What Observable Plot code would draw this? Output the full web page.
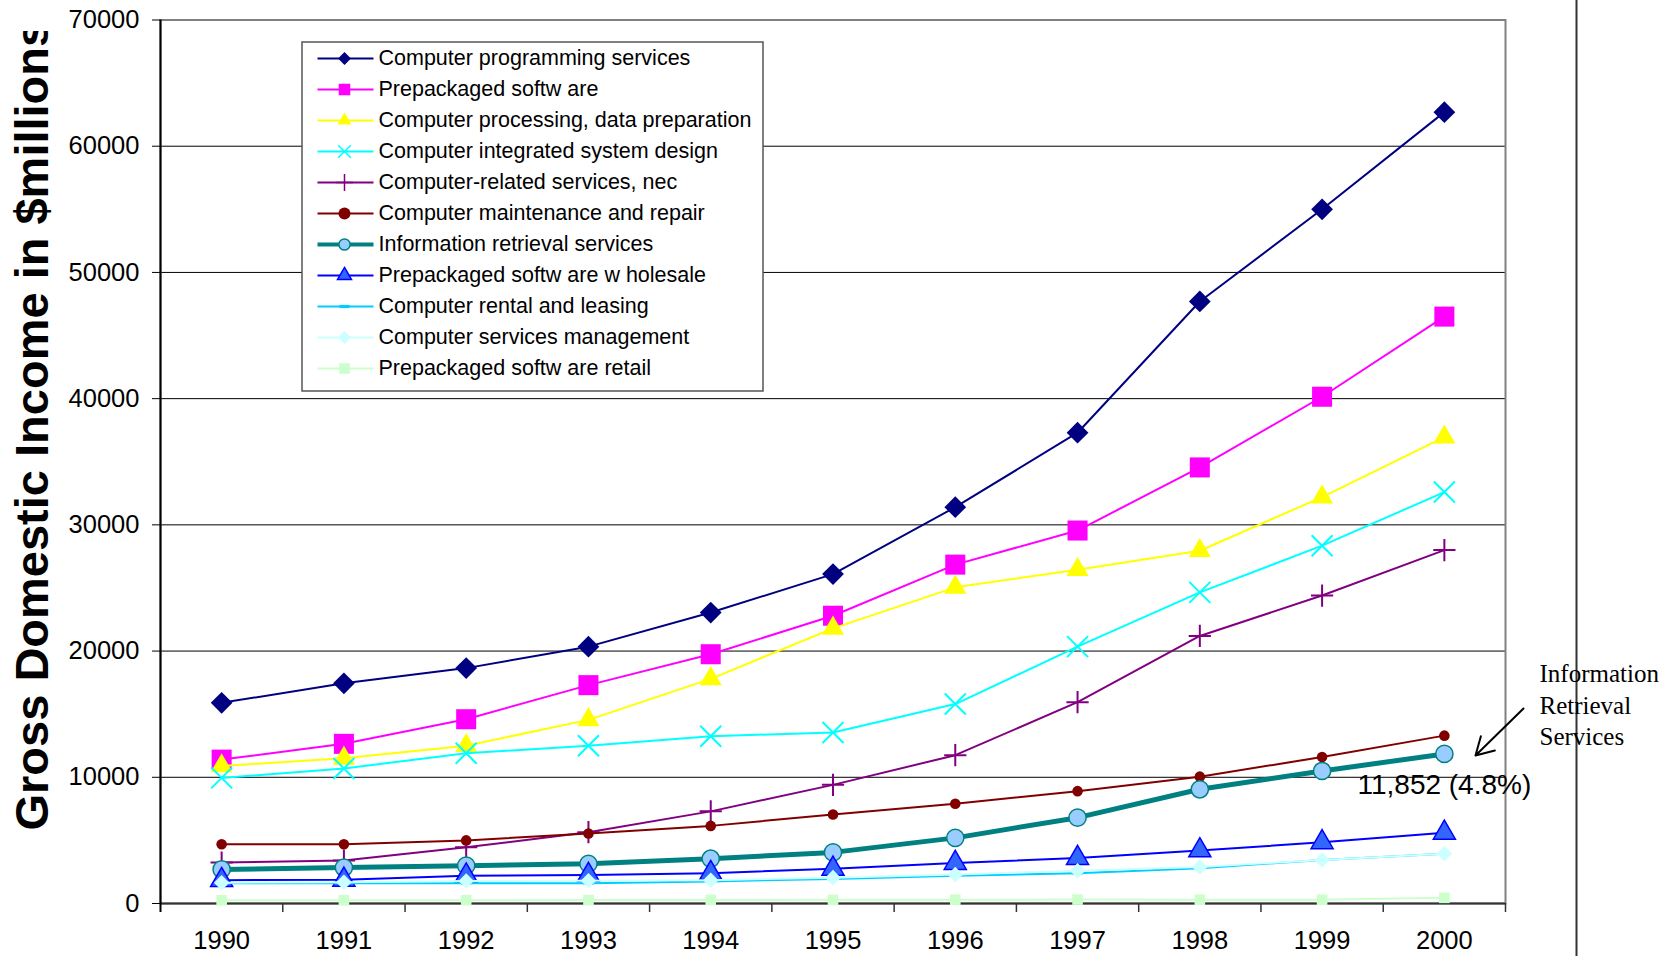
<!DOCTYPE html>
<html>
<head>
<meta charset="utf-8">
<script src="https://cdn.jsdelivr.net/npm/d3@7"></script>
<script src="https://cdn.jsdelivr.net/npm/@observablehq/plot@0.6"></script>
<style>
  html, body { margin: 0; padding: 0; background: #fff; }
  #chart svg { display: block; }
</style>
</head>
<body>
<div id="chart"></div>
<script>
// ---------- data ----------
const years = [1990, 1991, 1992, 1993, 1994, 1995, 1996, 1997, 1998, 1999, 2000];
const yTicks = [0, 10000, 20000, 30000, 40000, 50000, 60000, 70000];
const seriesNames = [
  "Computer programming services",
  "Prepackaged softw are",
  "Computer processing, data preparation",
  "Computer integrated system design",
  "Computer-related services, nec",
  "Computer maintenance and repair",
  "Information retrieval services",
  "Prepackaged softw are w holesale",
  "Computer rental and leasing",
  "Computer services management",
  "Prepackaged softw are retail"
];
const programming = [15900, 17450, 18650, 20350, 23050, 26100, 31400, 37300, 47700, 55000, 62700];
const prepackaged = [11400, 12650, 14600, 17300, 19750, 22800, 26850, 29550, 34550, 40150, 46500];
const processing  = [10900, 11500, 12500, 14550, 17800, 21800, 25050, 26450, 27950, 32200, 36950];
const integrated  = [9950, 10700, 11900, 12500, 13250, 13550, 15800, 20350, 24650, 28350, 32600];
const related     = [3250, 3400, 4450, 5650, 7300, 9400, 11750, 15950, 21200, 24400, 28000];
const maintenance = [4700, 4700, 5000, 5550, 6150, 7050, 7900, 8900, 10050, 11600, 13300];
const retrieval   = [2700, 2850, 3000, 3150, 3550, 4050, 5200, 6800, 9050, 10500, 11852];
const wholesale   = [1850, 1880, 2200, 2250, 2400, 2750, 3200, 3600, 4200, 4850, 5600];
const rental      = [1600, 1600, 1600, 1600, 1750, 1950, 2200, 2400, 2800, 3450, 3950];
const management  = [1650, 1680, 1780, 1800, 1850, 2050, 2300, 2600, 2900, 3450, 3950];
const retail      = [250, 250, 260, 270, 280, 290, 300, 310, 300, 300, 450];
const seriesValues = [programming, prepackaged, processing, integrated, related, maintenance,
                      retrieval, wholesale, rental, management, retail];

const yTitle = "Gross Domestic Income in $millions";
const noteLabel = "11,852 (4.8%)";
const noteYear = 2000;
const noteValue = 11852;
const sideNote = "Information\nRetrieval\nServices";

// ---------- styles ----------
const dash = {
  draw(context) {
    context.moveTo(-5, -1.6); context.lineTo(5, -1.6); context.lineTo(5, 1.6); context.lineTo(-5, 1.6); context.closePath();
  }
};
const styles = [
  {color: "#000080", symbol: "diamond2", r: 9.8, lr: 5.8, fill: "#000080", stroke: "none", sw: 0, lw: 2},
  {color: "#FF00FF", symbol: "square",   r: 11.3, lr: 6.5, fill: "#FF00FF", stroke: "none", sw: 0, lw: 2},
  {color: "#FFFF00", symbol: "triangle", r: 8.2, lr: 5.1, fill: "#FFFF00", stroke: "none", sw: 0, lw: 2},
  {color: "#00FFFF", symbol: "times",    r: 9.6, lr: 5.8, fill: "none", stroke: "#00FFFF", sw: 2, lw: 2},
  {color: "#800080", symbol: "plus",     r: 7.2, lr: 5.5, fill: "none", stroke: "#800080", sw: 2, lw: 2},
  {color: "#800000", symbol: "circle",   r: 5.3, lr: 6.0, fill: "#800000", stroke: "none", sw: 0, lw: 2},
  {color: "#008080", symbol: "circle",   r: 8.6, lr: 5.6, fill: "#99CCFF", stroke: "#008080", sw: 1.5, lw: 5},
  {color: "#0000FF", symbol: "triangle", r: 8.2, lr: 5.2, fill: "#3366FF", stroke: "#0000FF", sw: 1.5, lw: 2},
  {color: "#00CCFF", symbol: dash,       r: 5,   lr: 5,   fill: "#00CCFF", stroke: "none", sw: 0, lw: 2},
  {color: "#CCFFFF", symbol: "diamond2", r: 7.0, lr: 5.8, fill: "#CCFFFF", stroke: "none", sw: 0, lw: 2},
  {color: "#CCFFCC", symbol: "square",   r: 6.0, lr: 6.0, fill: "#CCFFCC", stroke: "none", sw: 0, lw: 2}
];

// ---------- layout ----------
const W = 1670, H = 956;
const mLeft = 160, mRight = 165, mTop = 19.5, mBottom = 53;
const xDomain = [years[0] - 0.5, years[years.length - 1] + 0.5];
const yDomain = [0, 70000];
const xPix = d3.scaleLinear(xDomain, [mLeft, W - mRight]);
const yPix = d3.scaleLinear(yDomain, [H - mBottom, mTop]);

const marks = [];
// grid lines
marks.push(Plot.ruleY(yTicks.slice(1, -1), {stroke: "#000", strokeWidth: 1}));
// plot frame
marks.push(Plot.frame({stroke: "#808080", strokeWidth: 2}));
// axis lines and ticks between categories
marks.push(Plot.ruleY([0], {stroke: "#333", strokeWidth: 2}));
marks.push(Plot.ruleX([xDomain[0]], {stroke: "#000", strokeWidth: 2, insetBottom: -9}));
marks.push(Plot.ruleX(years.map(y => y + 0.5), {stroke: "#333", strokeWidth: 1.5,
  insetTop: H - mBottom - mTop, insetBottom: -9}));

// series
seriesNames.forEach((name, i) => {
  const s = styles[i];
  const rows = years.map((yr, j) => ({series: name, year: yr, value: seriesValues[i][j]}));
  marks.push(Plot.line(rows, {x: "year", y: "value", stroke: s.color, strokeWidth: s.lw}));
  marks.push(Plot.dot(rows, {x: "year", y: "value", symbol: s.symbol, r: s.r,
    fill: s.fill, stroke: s.stroke, strokeWidth: s.sw}));
});

// legend
const lg = {x1: xPix.invert(302), x2: xPix.invert(763), y1: yPix.invert(42), y2: yPix.invert(391)};
marks.push(Plot.rect([lg], {x1: "x1", x2: "x2", y1: "y1", y2: "y2", fill: "white", stroke: "#555", strokeWidth: 1.5}));
seriesNames.forEach((name, i) => {
  const s = styles[i];
  const ly = yPix.invert(58 + 31 * i);
  const item = {name, ly, xa: xPix.invert(317), xb: xPix.invert(373), xm: xPix.invert(344), xt: xPix.invert(378)};
  marks.push(Plot.link([item], {x1: "xa", x2: "xb", y1: "ly", y2: "ly", stroke: s.color, strokeWidth: s.lw === 5 ? 4 : 2}));
  marks.push(Plot.dot([item], {x: "xm", y: "ly", symbol: s.symbol, r: s.lr, fill: s.fill, stroke: s.stroke,
    strokeWidth: s.sw ? Math.min(s.sw, 1.5) : 0}));
  marks.push(Plot.text([item], {x: "xt", y: "ly", text: "name", textAnchor: "start", fontSize: 21.5, fill: "#000"}));
});

// annotations
marks.push(Plot.text([{t: noteLabel, x: noteYear, y: noteValue}], {x: "x", y: "y", text: "t", dy: 31,
  textAnchor: "middle", fontSize: 28, fill: "#000"}));
marks.push(Plot.arrow([{x1: xPix.invert(1523), y1: yPix.invert(708), x2: xPix.invert(1475), y2: yPix.invert(755)}],
  {x1: "x1", y1: "y1", x2: "x2", y2: "y2", stroke: "#000", strokeWidth: 2, headLength: 15, bend: 0}));
marks.push(Plot.ruleX([xPix.invert(1576)], {stroke: "#333", strokeWidth: 2, insetTop: -mTop, insetBottom: -mBottom}));
marks.push(Plot.text([{t: sideNote, x: xPix.invert(1539), y: yPix.invert(703)}], {x: "x", y: "y", text: "t",
  textAnchor: "start", lineAnchor: "middle", lineHeight: 1.27, fontSize: 25,
  fontFamily: '"Liberation Serif", "Times New Roman", serif', fill: "#000"}));

// y title
marks.push(Plot.text([{t: yTitle, x: xPix.invert(32), y: yPix.invert(830)}], {x: "x", y: "y", text: "t",
  rotate: -90, textAnchor: "start", lineAnchor: "middle", fontSize: 47, fontWeight: "bold", fill: "#000"}));

// axes
marks.push(Plot.axisY(yTicks, {tickSize: 8, tickPadding: 13, tickFormat: d => String(d), fontSize: 25.5, label: null}));
marks.push(Plot.axisX(years, {tickSize: 0, tickPadding: 27, tickFormat: d => String(d), fontSize: 25.5, label: null}));

const plot = Plot.plot({
  width: W,
  height: H,
  marginLeft: mLeft,
  marginRight: mRight,
  marginTop: mTop,
  marginBottom: mBottom,
  x: {type: "linear", domain: xDomain, label: null},
  y: {type: "linear", domain: yDomain, label: null},
  style: {fontFamily: '"Liberation Sans", Arial, sans-serif', fontSize: "25.5px", color: "#000", background: "#fff", overflow: "visible"},
  marks
});

// clip the rotated title at the top of its text box, as in the original
const ns = "http://www.w3.org/2000/svg";
const defs = document.createElementNS(ns, "defs");
const cp = document.createElementNS(ns, "clipPath");
cp.setAttribute("id", "ytitle-clip");
cp.setAttribute("clipPathUnits", "userSpaceOnUse");
const cr = document.createElementNS(ns, "rect");
cr.setAttribute("x", -50); cr.setAttribute("y", 31); cr.setAttribute("width", 200); cr.setAttribute("height", H - 31);
cp.appendChild(cr); defs.appendChild(cp); plot.insertBefore(defs, plot.firstChild);
const titleNode = Array.from(plot.querySelectorAll("text")).find(t => t.textContent === yTitle);
if (titleNode) {
  const g = titleNode.parentNode;
  const wrap = document.createElementNS(ns, "g");
  wrap.setAttribute("clip-path", "url(#ytitle-clip)");
  g.parentNode.insertBefore(wrap, g);
  wrap.appendChild(g);
}

document.getElementById("chart").appendChild(plot);
</script>
</body>
</html>
